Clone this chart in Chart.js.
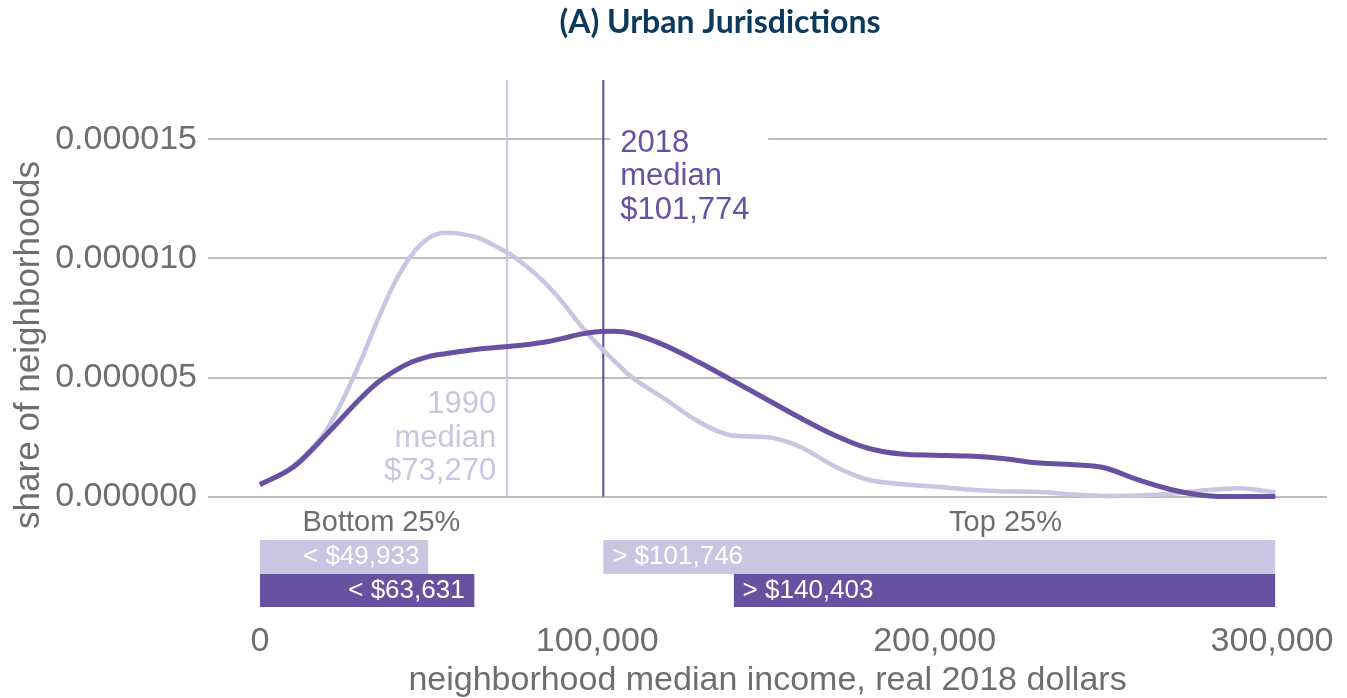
<!DOCTYPE html>
<html><head><meta charset="utf-8">
<script src="https://cdn.jsdelivr.net/npm/chart.js@4.4.0/dist/chart.umd.min.js"></script>
<style>html,body{margin:0;padding:0;background:#fff;}#wrap{width:1347px;height:698px;position:relative;}</style>
</head><body><div id="wrap"><canvas id="c" width="1347" height="698"></canvas></div>
<script>
// ---- data (density in millionths: 1 = 0.000001) ----
const income = [0,10000,20000,30000,35000,40000,45000,50000,55000,60000,65000,70000,75000,80000,85000,90000,95000,100000,105000,110000,120000,130000,140000,150000,160000,170000,180000,190000,200000,210000,220000,230000,240000,250000,260000,270000,280000,290000,301000];
const density1990 = [0.5,1.3,2.85,5.74,7.45,9.0,10.15,10.85,11.08,11.02,10.85,10.5,10.1,9.55,8.9,8.1,7.2,6.4,5.7,5.04,4.1,3.15,2.57,2.5,2.1,1.3,0.72,0.53,0.42,0.3,0.22,0.2,0.1,0.03,0.05,0.12,0.27,0.35,0.18];
const density2018 = [0.5,1.25,2.65,4.15,4.8,5.28,5.65,5.88,6.0,6.1,6.2,6.26,6.32,6.4,6.5,6.65,6.82,6.92,6.94,6.86,6.35,5.65,4.88,4.1,3.32,2.6,2.04,1.79,1.74,1.7,1.6,1.42,1.35,1.22,0.72,0.3,0.05,0.0,0.0];
const median1990 = 73270;
const median2018 = 101774;
const bottom25_1990 = 49933;
const bottom25_2018 = 63631;
const top25_1990 = 101746;
const top25_2018 = 140403;
const incomeMax = 301000;
const xTicks = [0,100000,200000,300000];
const yTicks = [0,5,10,15];

// ---- styles / layout ----
const LIGHT = '#c8c6e0', DARK = '#6851a0', DARKLINE = '#5c48a2', TXT = '#6e6e6e';
const FONT = "'Liberation Sans', Arial, sans-serif";
const yMin = -4.76, yMax = 17.49, xMin = -15400, xMax = 316300;
const row1 = [-1.82, -3.245], row2 = [-3.245, -4.63];

function pts(xs, ys){ return xs.map((x,i)=>({x:x,y:ys[i]})); }
function rect(x0,x1,r,color){
  return {data:[{x:x0,y:r[0]},{x:x1,y:r[0]}], fill:{value:r[1]}, backgroundColor:color, borderWidth:0, pointRadius:0, tension:0, order:5};
}
function vline(x,color){
  return {data:[{x:x,y:0},{x:x,y:yMax}], borderColor:color, borderWidth:2, pointRadius:0, tension:0, fill:false, order:3};
}

const datasets = [
  rect(0,bottom25_1990,row1,LIGHT),
  rect(top25_1990,incomeMax,row1,LIGHT),
  rect(0,bottom25_2018,row2,DARK),
  rect(top25_2018,incomeMax,row2,DARK),
  vline(median1990,LIGHT),
  vline(median2018,DARKLINE),
  {data:pts(income,density1990), borderColor:LIGHT, borderWidth:4.5, pointRadius:0, cubicInterpolationMode:'monotone', fill:false, order:2},
  {data:pts(income,density2018), borderColor:DARK, borderWidth:5, pointRadius:0, cubicInterpolationMode:'monotone', fill:false, order:1}
];

const annot = {
  id:'annot',
  afterDatasetsDraw(chart){
    const c = chart.ctx, xs = chart.scales.x, ys = chart.scales.y;
    c.save();
    // 2018 median label with white box
    const x18 = xs.getPixelForValue(median2018);
    c.fillStyle = '#fff';
    c.fillRect(x18+7, ys.getPixelForValue(16.6), 158, 100);
    c.font = "31px " + FONT;
    c.fillStyle = DARK; c.textAlign='left'; c.textBaseline='alphabetic';
    const b18 = 151.5;
    ['2018','median','$' + median2018.toLocaleString('en-US')].forEach((t,i)=>c.fillText(t, x18+17, b18 + i*33.5));
    // 1990 median label
    const x90 = xs.getPixelForValue(median1990);
    c.fillStyle = LIGHT; c.textAlign='right';
    const b90 = 413;
    ['1990','median','$' + median1990.toLocaleString('en-US')].forEach((t,i)=>c.fillText(t, x90-11, b90 + i*33.5));
    // bar labels
    c.font = "26px " + FONT; c.fillStyle='#fff'; c.textBaseline='middle';
    const m1 = ys.getPixelForValue((row1[0]+row1[1])/2), m2 = ys.getPixelForValue((row2[0]+row2[1])/2);
    c.textAlign='right';
    c.fillText('< $' + bottom25_1990.toLocaleString('en-US'), xs.getPixelForValue(bottom25_1990)-9, m1);
    c.fillText('< $' + bottom25_2018.toLocaleString('en-US'), xs.getPixelForValue(bottom25_2018)-10, m2);
    c.textAlign='left';
    c.fillText('> $' + top25_1990.toLocaleString('en-US'), xs.getPixelForValue(top25_1990)+9, m1);
    c.fillText('> $' + top25_2018.toLocaleString('en-US'), xs.getPixelForValue(top25_2018)+9, m2);
    // group labels
    c.font = "29px " + FONT; c.fillStyle = TXT; c.textAlign='center';
    const gy = ys.getPixelForValue(-1.1);
    c.fillText('Bottom 25%', xs.getPixelForValue(36000), gy);
    c.fillText('Top 25%', xs.getPixelForValue(221000), gy);
    // title
    c.font = "bold 32px Lato, 'Open Sans', sans-serif"; c.fillStyle = '#0b3a5c'; c.textAlign='center';
    c.fillText('(A) Urban Jurisdictions', 720, 23);
    c.restore();
  }
};

new Chart(document.getElementById('c'), {
  type:'line',
  data:{datasets:datasets},
  options:{
    responsive:false, animation:false,
    layout:{padding:{top:80,right:20,left:0,bottom:0}},
    plugins:{legend:{display:false}, tooltip:{enabled:false}},
    elements:{point:{radius:0}},
    scales:{
      x:{type:'linear', min:xMin, max:xMax,
         afterBuildTicks:s=>{s.ticks = xTicks.map(v=>({value:v}));},
         grid:{display:false}, border:{display:false},
         ticks:{padding:3, color:TXT, font:{family:FONT,size:34}, maxRotation:0, autoSkip:false, callback:v=>v.toLocaleString('en-US')},
         title:{display:true, text:'neighborhood median income, real 2018 dollars', color:TXT, font:{family:FONT,size:34,lineHeight:1}, padding:{top:0,bottom:0}},
         afterFit:s=>{s.height = 88;}
      },
      y:{type:'linear', min:yMin, max:yMax,
         afterBuildTicks:s=>{s.ticks = yTicks.map(v=>({value:v}));},
         grid:{color:'#bdbdbd', lineWidth:2, drawTicks:false}, border:{display:false},
         ticks:{padding:11, color:TXT, font:{family:FONT,size:34}, callback:v=>(v/1e6).toFixed(6)},
         title:{display:true, text:'share of neighborhoods', color:TXT, font:{family:FONT,size:35,lineHeight:1}, padding:{top:12,bottom:0}},
         afterFit:s=>{s.width = 208;}
      }
    }
  },
  plugins:[annot]
});
</script></body></html>
